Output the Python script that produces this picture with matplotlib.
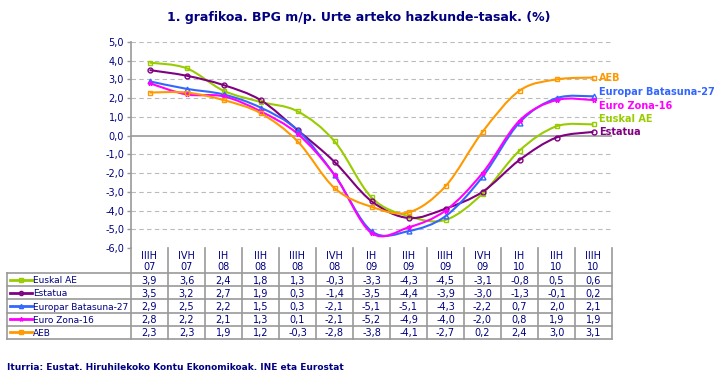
import numpy as np
import matplotlib.pyplot as plt
from matplotlib.path import Path
from matplotlib.patches import PathPatch

# %%
periods = ["IIIH\n07", "IVH\n07", "IH\n08", "IIH\n08", "IIIH\n08", "IVH\n08", "IH\n09",
           "IIH\n09", "IIIH\n09", "IVH\n09", "IH\n10", "IIH\n10", "IIIH\n10"]

euskal_ae = [3.9, 3.6, 2.4, 1.8, 1.3, -0.3, -3.3, -4.3, -4.5, -3.1, -0.8, 0.5, 0.6]
estatua = [3.5, 3.2, 2.7, 1.9, 0.3, -1.4, -3.5, -4.4, -3.9, -3.0, -1.3, -0.1, 0.2]
eb27 = [2.9, 2.5, 2.2, 1.5, 0.3, -2.1, -5.1, -5.1, -4.3, -2.2, 0.7, 2.0, 2.1]
ez16 = [2.8, 2.2, 2.1, 1.3, 0.1, -2.1, -5.2, -4.9, -4.0, -2.0, 0.8, 1.9, 1.9]
aeb = [2.3, 2.3, 1.9, 1.2, -0.3, -2.8, -3.8, -4.1, -2.7, 0.2, 2.4, 3.0, 3.1]

names = ["Euskal AE", "Estatua", "Europar Batasuna-27", "Euro Zona-16", "AEB"]
colors = ["#99CC00", "#800080", "#3366FF", "#FF00FF", "#FF9900"]
markers = ["s", "o", "^", "*", "s"]
label_dy = [4, 0, 3, -4, 0]   # pixel nudges for end labels
series = [euskal_ae, estatua, eb27, ez16, aeb]

navy = "#000080"
grid_c = "#BBBBBB"
line_c = "#999999"

W, H = 717, 385
x0, x1 = 131, 612          # plot / table columns span (pixels)
y_top, y_bot = 42, 248     # 5.0 and -6.0
ncol = len(periods)
cw = (x1 - x0) / ncol


def smooth_path(xs, ys, t=0.5):
    # Catmull-Rom as cubic bezier through the data points
    pts = np.column_stack([xs, ys]).astype(float)
    verts = [pts[0]]
    codes = [Path.MOVETO]
    n = len(pts)
    for i in range(n - 1):
        p0 = pts[max(i - 1, 0)]
        p1 = pts[i]
        p2 = pts[i + 1]
        p3 = pts[min(i + 2, n - 1)]
        c1 = p1 + (p2 - p0) * t / 3
        c2 = p2 - (p3 - p1) * t / 3
        verts += [c1, c2, p2]
        codes += [Path.CURVE4] * 3
    return Path(verts, codes)


fig = plt.figure(figsize=(W / 100, H / 100), dpi=100)

ax = fig.add_axes([x0 / W, 1 - y_bot / H, (x1 - x0) / W, (y_bot - y_top) / H])
xs = np.arange(ncol)
ax.set_xlim(-0.5, ncol - 0.5)
ax.set_ylim(-6, 5)
yt = np.arange(-6, 5.1, 1.0)
ax.set_yticks(yt)
ax.set_yticklabels([f"{v:.1f}".replace(".", ",") for v in yt], color=navy, fontsize=7)
ax.tick_params(axis="y", length=3, width=1, color=line_c, pad=2)
ax.set_xticks([])
for v in yt:
    if v == 0:
        ax.axhline(0, color=line_c, lw=1.2, zorder=1)
    elif v > -6:
        ax.axhline(v, color=grid_c, lw=0.8, ls=(0, (4, 3)), zorder=1)
for s in ["top", "right", "bottom"]:
    ax.spines[s].set_visible(False)
ax.spines["left"].set_color(line_c)
ax.spines["left"].set_linewidth(1.2)

for vals, c, m, nm, dy in zip(series, colors, markers, names, label_dy):
    ax.add_patch(PathPatch(smooth_path(xs, vals), fill=False, edgecolor=c, lw=1.5, zorder=3))
    ax.plot(xs, vals, ls="none", marker=m, ms=3.5, mfc="none", mec=c, mew=1, zorder=4)
    ax.annotate(nm, (xs[-1], vals[-1]), xytext=(4, dy), textcoords="offset points",
                color=c, fontsize=7, fontweight="bold", va="center", annotation_clip=False)

fig.text(0.5, 1 - 17 / H, "1. grafikoa. BPG m/p. Urte arteko hazkunde-tasak. (%)",
         ha="center", va="center", color=navy, fontsize=9, fontweight="bold")

# %% table drawn on an overlay axes in pixel coordinates
tb = fig.add_axes([0, 0, 1, 1], facecolor="none")
tb.set_xlim(0, W)
tb.set_ylim(H, 0)
tb.axis("off")

hdr_bot = 273
row_h = 13.2
t_left = 7
t_bot = hdr_bot + row_h * len(names)

tb.plot([x0, x0], [y_bot, t_bot], color=line_c, lw=1.2)
for j in range(1, ncol + 1):
    xx = x0 + j * cw
    tb.plot([xx, xx], [y_bot, t_bot], color=line_c, lw=1.2)
tb.plot([t_left, t_left], [hdr_bot, t_bot], color=line_c, lw=1.2)
for i in range(len(names) + 1):
    yy = hdr_bot + i * row_h
    tb.plot([t_left, x1], [yy, yy], color=line_c, lw=1.2)

for j, p in enumerate(periods):
    tb.text(x0 + (j + 0.5) * cw, (y_bot + hdr_bot) / 2 + 1, p, ha="center", va="center",
            color=navy, fontsize=7, linespacing=1.1)

for i, (vals, c, m, nm) in enumerate(zip(series, colors, markers, names)):
    yc = hdr_bot + (i + 0.5) * row_h
    tb.plot([10, 32], [yc, yc], color=c, lw=2)
    tb.plot([21], [yc], marker=m, ms=3, mfc="none", mec=c, mew=1)
    tb.text(33, yc + 1, nm, ha="left", va="center", color=navy, fontsize=6.5)
    for j, v in enumerate(vals):
        tb.text(x0 + (j + 0.5) * cw, yc + 1, f"{v:.1f}".replace(".", ","), ha="center",
                va="center", color=navy, fontsize=7)

fig.text(7 / W, 1 - 368 / H, "Iturria: Eustat. Hiruhilekoko Kontu Ekonomikoak. INE eta Eurostat",
         ha="left", va="center", color=navy, fontsize=6.5, fontweight="bold")

fig.savefig("out.png", dpi=100)
